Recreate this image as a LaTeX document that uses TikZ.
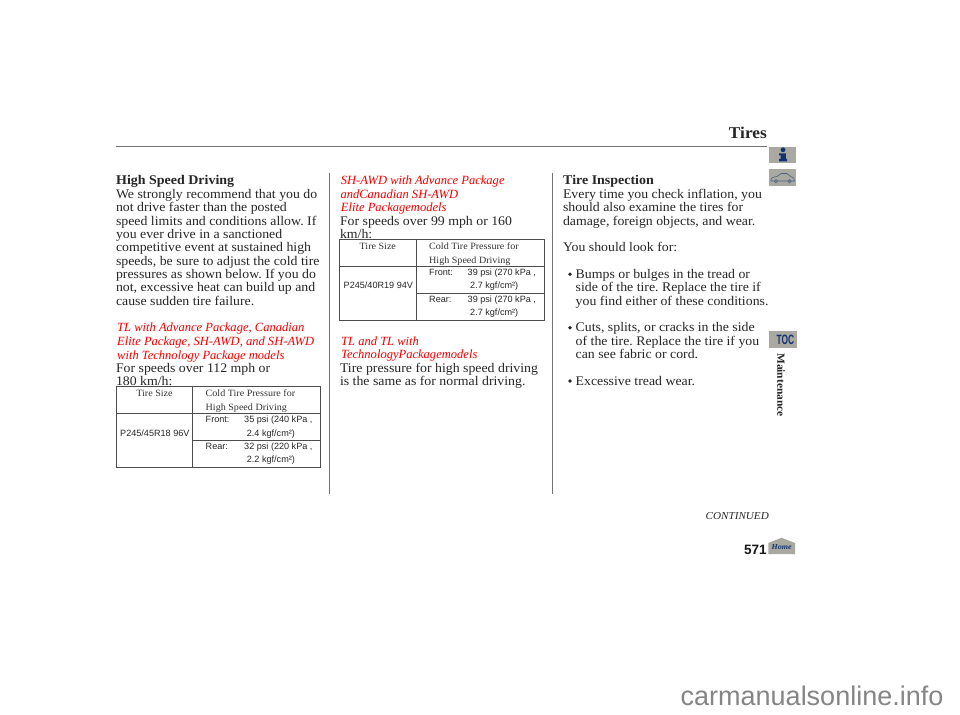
\documentclass[tikz,border=0pt]{standalone}
\usepackage{fontspec}
\setmainfont[FakeStretch=1.05]{Liberation Serif}
\setsansfont{Liberation Sans}
\newfontfamily\redf{Liberation Serif}
\definecolor{navyc}{HTML}{12336F}
\definecolor{icong}{HTML}{A9A9A2}
\frenchspacing
\tikzset{
 x=1pt,y=-1pt,
 bodytxt/.style={anchor=base west,inner sep=0,outer sep=0,font=\frenchspacing\fontsize{13.17}{13}\selectfont,text=black!85},
 headtxt/.style={anchor=base west,inner sep=0,font=\bfseries\fontsize{13.3}{13}\selectfont,text=black!85},
 redtxt/.style={anchor=base west,inner sep=0,font=\redf\itshape\fontsize{12.55}{13}\selectfont,text=red!95!black},
 celltxt/.style={anchor=base west,inner sep=0,font=\fontsize{9.6}{9}\selectfont,text=black!80},
 cellsf/.style={anchor=base west,inner sep=0,font=\sffamily\fontsize{9.1}{9}\selectfont,text=black!85},
 rulel/.style={draw=black!55,line width=1pt},
 tabl/.style={draw=black!70,line width=0.7pt},
}
\begin{document}
\begin{tikzpicture}
\useasboundingbox (0,0) rectangle (960,714);
\fill[white] (0,0) rectangle (960,714);
\draw[rulel] (329.7,173) -- (329.7,494);
\draw[rulel] (552.7,173) -- (552.7,494);
\draw[rulel] (116,147) -- (767,147);
\node[anchor=base east,inner sep=0,font=\bfseries\fontsize{16.5}{16}\selectfont,text=black!85] (ttl) at (767,139) {Tires};
% col 1
\node[headtxt] (h1) at (116,184.7) {High Speed Driving};
\foreach \i/\t/\y in {
 a/We strongly recommend that you do/198.3,
 b/not drive faster than the posted/211.7,
 c/speed limits and conditions allow. If/225,
 d/you ever drive in a sanctioned/238.3,
 e/competitive event at sustained high/251.7,
 f/{speeds, be sure to adjust the cold tire}/265,
 g/pressures as shown below. If you do/278.3,
 h/{not, excessive heat can build up and}/291.7,
 k/cause sudden tire failure./305}
 \node[bodytxt] (c1\i) at (116,\y) {\t};
\node[redtxt] (r1a) at (117,331.9) {TL with Advance Package, Canadian};
\node[redtxt] (r1b) at (117,345.5) {Elite Package, SH-AWD, and SH-AWD};
\node[redtxt] (r1c) at (117,359) {with Technology Package models};
\node[bodytxt] (s1a) at (116,372.3) {For speeds over 112 mph or};
\node[bodytxt] (s1b) at (116,385.7) {180 km/h:};
% table 1
\draw[tabl] (116,386.7) rectangle (320.7,467);
\draw[tabl] (192.7,386.7) -- (192.7,467);
\draw[tabl] (116,413.3) -- (320.7,413.3);
\draw[tabl] (192.7,440.3) -- (320.7,440.3);
\node[celltxt,anchor=base] (t1a) at (154.5,396.7) {Tire Size};
\node[celltxt] (t1b) at (205.5,396.7) {Cold Tire Pressure for};
\node[celltxt] (t1c) at (205.5,410) {High Speed Driving};
\node[cellsf] (t1d) at (120,436) {P245/45R18 96V};
\node[cellsf] (t1e) at (205.5,422.5) {Front:};
\node[cellsf] (t1f) at (244,422.5) {35 psi (240 kPa ,};
\node[cellsf] (t1g) at (246.7,436) {2.4 kgf/cm²)};
\node[cellsf] (t1h) at (205.5,449.3) {Rear:};
\node[cellsf] (t1i) at (244,449.3) {32 psi (220 kPa ,};
\node[cellsf] (t1j) at (246.7,462.7) {2.2 kgf/cm²)};
% col 2
\node[redtxt] (r2a) at (340.7,184.5) {SH-AWD with Advance Package};
\node[redtxt] (r2b) at (340.3,198) {andCanadian SH-AWD};
\node[redtxt] (r2c) at (340.7,211.3) {Elite Packagemodels};
\node[bodytxt] (s2a) at (340,225) {For speeds over 99 mph or 160};
\node[bodytxt] (s2b) at (340,238.3) {km/h:};
\draw[tabl] (339.3,239.7) rectangle (544.3,320);
\draw[tabl] (416.3,239.7) -- (416.3,320);
\draw[tabl] (339.3,266.7) -- (544.3,266.7);
\draw[tabl] (416.3,293) -- (544.3,293);
\node[celltxt,anchor=base] (t2a) at (377.8,249.7) {Tire Size};
\node[celltxt] (t2b) at (429,249.7) {Cold Tire Pressure for};
\node[celltxt] (t2c) at (429,263) {High Speed Driving};
\node[cellsf] (t2d) at (343.5,288.7) {P245/40R19 94V};
\node[cellsf] (t2e) at (429,275.3) {Front:};
\node[cellsf] (t2f) at (467.5,275.3) {39 psi (270 kPa ,};
\node[cellsf] (t2g) at (470,288.7) {2.7 kgf/cm²)};
\node[cellsf] (t2h) at (429,302) {Rear:};
\node[cellsf] (t2i) at (467.5,302) {39 psi (270 kPa ,};
\node[cellsf] (t2j) at (470,315.5) {2.7 kgf/cm²)};
\node[redtxt] (r3a) at (341,345.3) {TL and TL with};
\node[redtxt] (r3b) at (341,358.7) {TechnologyPackagemodels};
\node[bodytxt] (s3a) at (340,372.3) {Tire pressure for high speed driving};
\node[bodytxt] (s3b) at (340,385.7) {is the same as for normal driving.};
% col 3
\node[headtxt] (h3) at (563,185) {Tire Inspection};
\node[bodytxt] (p1) at (563,198.3) {Every time you check inflation, you};
\node[bodytxt] (p2) at (563,211.7) {should also examine the tires for};
\node[bodytxt] (p3) at (563,225) {damage, foreign objects, and wear.};
\node[bodytxt] (p4) at (563,251.7) {You should look for:};
\foreach \y in {278.3,331.7,385}
 \fill[black!85] (570,\y-4) circle (1.9);
\node[bodytxt] (q1) at (575.7,278.3) {Bumps or bulges in the tread or};
\node[bodytxt] (q2) at (575.7,291.7) {side of the tire. Replace the tire if};
\node[bodytxt] (q3) at (575.7,305) {you find either of these conditions.};
\node[bodytxt] (q4) at (575.7,331.7) {Cuts, splits, or cracks in the side};
\node[bodytxt] (q5) at (575.7,345) {of the tire. Replace the tire if you};
\node[bodytxt] (q6) at (575.7,358.3) {can see fabric or cord.};
\node[bodytxt] (q7) at (575.7,385) {Excessive tread wear.};
\node[anchor=base east,inner sep=0,font=\itshape\fontsize{10.6}{11}\selectfont,text=black!85] (cont) at (769,519.3) {CONTINUED};
\node[anchor=base east,inner sep=0,font=\sffamily\bfseries\fontsize{13.6}{14}\selectfont,text=black!90] (pg) at (767,554) {571};
% icons
\fill[icong] (769.3,146.7) rectangle (796,163.3);
\fill[navyc] (783,149.8) circle (2.4);
\fill[navyc] (779.2,153.5) -- (785.8,153.5) -- (785.8,159) -- (787,159) -- (787,161.3) -- (779.2,161.3) -- (779.2,159) -- (780.6,159) -- (780.6,155.5) -- (779.2,155.5) -- cycle;
\fill[icong] (769.3,169) rectangle (796,186);
\draw[navyc!60!icong,line width=0.6pt] (771,181) .. controls (770,178) and (773,177) .. (777,176.5) -- (781,173.5) -- (787,173.5) -- (790.5,176.5) .. controls (793,177) and (795,178) .. (794.5,181) -- cycle;
\draw[navyc!60!icong,line width=0.6pt] (776,181.3) circle (1.7) (789.5,181.3) circle (1.7);
\fill[icong] (769.3,330.7) rectangle (797,348.3);
\node[inner sep=0,xscale=0.62,font=\sffamily\bfseries\fontsize{13.5}{14}\selectfont,text=navyc] (toc) at (785.3,339.7) {TOC};
\fill[icong] (768.3,554) -- (768.3,543) -- (781.5,537.7) -- (795,543) -- (795,554) -- cycle;
\node[inner sep=0,font=\itshape\bfseries\fontsize{7.6}{8}\selectfont,text=navyc] (home) at (781.7,547.3) {Home};
\node[rotate=-90,inner sep=0,font=\bfseries\fontsize{10.9}{11}\selectfont,text=black!85] (maint) at (781,385) {Maintenance};
\node[anchor=base west,inner sep=0,font=\sffamily\fontsize{27}{28}\selectfont,text=black!48] (wm) at (680.5,705) {carmanualsonline.info};
\end{tikzpicture}
\end{document}
